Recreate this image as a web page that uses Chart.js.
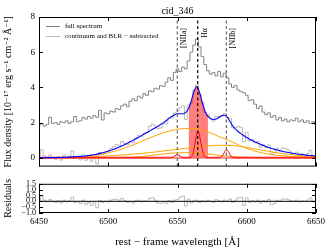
<!DOCTYPE html>
<html><head><meta charset="utf-8">
<script src="https://cdn.jsdelivr.net/npm/chart.js@4.4.1/dist/chart.umd.min.js"></script>
<style>
html,body{margin:0;padding:0;background:#fff;}
#wrap{position:relative;width:332px;height:249px;overflow:hidden;}
canvas{position:absolute;left:0;}
#c1{top:0;}
#c2{top:176px;}
</style></head><body>
<div id="wrap"><canvas id="c1" width="332" height="176"></canvas><canvas id="c2" width="332" height="73"></canvas></div>
<script>
// ---------- data ----------
const wave = [
6450,6452,6454,6456,6458,6460,6462,6464,6466,6468,
6470,6472,6474,6476,6478,6480,6482,6484,6486,6488,
6490,6492,6494,6496,6498,6500,6502,6504,6506,6508,
6510,6512,6514,6516,6518,6520,6522,6524,6526,6528,
6530,6532,6534,6536,6538,6540,6542,6544,6546,6548,
6550,6552,6554,6556,6558,6560,6562,6564,6566,6568,
6570,6572,6574,6576,6578,6580,6582,6584,6586,6588,
6590,6592,6594,6596,6598,6600,6602,6604,6606,6608,
6610,6612,6614,6616,6618,6620,6622,6624,6626,6628,
6630,6632,6634,6636,6638,6640,6642,6644,6646,6648,
6650];
const fullSpectrum = [
1.85,1.95,1.80,1.90,2.30,1.95,2.00,1.90,2.05,2.00,
2.10,1.95,2.05,2.35,2.05,2.10,2.30,2.20,2.35,2.25,
2.40,2.30,2.70,2.15,2.55,2.50,2.65,2.60,2.80,2.75,
2.95,3.05,2.90,3.20,3.35,3.25,3.50,3.40,3.65,3.55,
3.80,3.75,3.95,3.90,4.10,4.05,4.30,4.55,4.40,4.85,
5.05,4.90,5.15,5.05,5.50,6.00,6.40,6.75,6.30,5.75,
5.30,4.95,4.75,4.85,4.65,4.90,4.60,4.80,4.55,4.20,
4.00,4.10,3.85,3.75,3.70,3.55,3.25,3.30,3.05,2.80,
2.95,2.60,2.45,2.55,2.30,2.40,2.15,2.30,2.10,2.20,
2.05,2.15,2.10,2.25,2.05,2.15,2.00,2.10,1.95,2.05,
1.90];
const subtracted = [
0.05,0.45,0.10,-0.04,0.16,0.01,-0.09,0.07,-0.13,0.13,
-0.02,0.09,0.40,-0.04,0.07,-0.12,0.19,-0.14,0.03,-0.20,
0.03,-0.34,0.30,0.19,0.33,0.33,0.53,0.64,0.75,0.71,
0.93,0.81,0.74,0.92,0.85,1.13,1.27,1.21,1.40,1.44,
1.78,1.92,1.81,1.65,1.70,1.95,1.92,2.29,2.26,2.55,
2.65,2.85,2.95,2.18,3.00,3.10,3.85,4.15,3.60,3.15,
2.57,2.45,2.22,2.08,2.35,2.35,2.35,2.52,2.30,2.25,
1.70,1.72,1.78,1.71,0.90,1.45,0.96,1.03,0.85,0.93,
0.61,0.75,0.59,0.73,0.23,0.28,0.54,0.40,0.56,0.53,
0.45,0.32,0.24,0.32,0.15,0.23,0.16,0.24,0.43,0.07,
0.11];
const modelTotal = [
0.00,0.00,0.00,0.01,0.01,0.01,0.01,0.02,0.02,0.03,
0.03,0.04,0.05,0.06,0.07,0.08,0.09,0.11,0.13,0.15,
0.18,0.21,0.25,0.29,0.33,0.38,0.43,0.49,0.55,0.61,
0.68,0.76,0.84,0.92,1.00,1.08,1.17,1.26,1.35,1.44,
1.53,1.62,1.71,1.80,1.90,2.00,2.12,2.24,2.36,2.45,
2.50,2.50,2.50,2.58,2.80,3.25,3.80,4.05,3.70,3.10,
2.62,2.35,2.22,2.18,2.20,2.30,2.40,2.42,2.30,2.05,
1.80,1.62,1.48,1.36,1.25,1.15,1.06,0.98,0.90,0.83,
0.76,0.70,0.64,0.58,0.53,0.48,0.44,0.40,0.36,0.33,
0.30,0.27,0.24,0.22,0.20,0.18,0.16,0.14,0.13,0.12,
0.11];
const residuals = [
0.05,0.45,0.10,-0.05,0.15,0.00,-0.10,0.05,-0.15,0.10,
-0.05,0.05,0.35,-0.10,0.00,-0.20,0.10,-0.25,-0.10,-0.35,
-0.15,-0.55,0.05,-0.10,0.00,-0.05,0.10,0.15,0.20,0.10,
0.25,0.05,-0.10,0.00,-0.15,0.05,0.10,-0.05,0.05,0.00,
0.25,0.30,0.10,-0.15,-0.20,-0.05,-0.20,0.05,-0.10,0.10,
0.15,0.35,0.45,-0.40,0.20,-0.15,0.05,0.10,-0.10,0.05,
-0.05,0.10,0.00,-0.10,0.15,0.05,-0.05,0.10,0.00,0.20,
-0.10,0.10,0.30,0.35,-0.35,0.30,-0.10,0.05,-0.05,0.10,
-0.15,0.05,-0.05,0.15,-0.30,-0.20,0.10,0.00,0.20,0.20,
0.15,0.05,0.00,0.10,-0.05,0.05,0.00,0.10,0.30,-0.05,
0.00];
const compWave = [
6450,6455,6460,6465,6470,6475,6480,6485,6490,6495,
6500,6505,6510,6515,6520,6525,6530,6535,6540,6545,
6550,6555,6560,6565,6570,6575,6580,6585,6590,6595,
6600,6605,6610,6615,6620,6625,6630,6635,6640,6645,
6650];
const broad1 = [
0.00,0.00,0.01,0.01,0.02,0.04,0.06,0.09,0.14,0.20,
0.28,0.38,0.50,0.64,0.80,0.97,1.13,1.29,1.43,1.54,
1.62,1.66,1.66,1.62,1.52,1.38,1.20,1.05,0.88,0.70,
0.53,0.40,0.30,0.22,0.16,0.12,0.09,0.07,0.05,0.04,
0.03];
const broad2 = [
0.00,0.00,0.01,0.01,0.02,0.03,0.04,0.05,0.07,0.09,
0.11,0.13,0.16,0.19,0.22,0.26,0.30,0.34,0.39,0.44,
0.48,0.53,0.58,0.62,0.66,0.69,0.71,0.71,0.69,0.65,
0.59,0.52,0.45,0.38,0.31,0.25,0.20,0.16,0.12,0.09,
0.07];
const broad3 = [
0,0,0,0,0,0,0,0,0,0,
0.00,0.01,0.02,0.03,0.05,0.08,0.12,0.17,0.22,0.26,
0.28,0.30,0.30,0.28,0.24,0.19,0.14,0.10,0.07,0.04,
0.03,0.02,0.01,0,0,0,0,0,0,0,
0];
const narrowWave = [6450,6545,6546,6547,6548,6549,6550,6551,6552,6553,6554,6555,
6559,6560,6561,6562,6563,6564,6565,6566,6567,6568,6569,6570,6571,6572,
6580,6581,6582,6583,6584,6585,6586,6587,6588,6589,6590,6591,6650];
const narrowFlux = [0,0,0.01,0.04,0.10,0.16,0.18,0.15,0.09,0.04,0.01,0,
0,0.05,0.19,0.52,0.98,1.40,1.50,1.22,0.80,0.41,0.17,0.05,0.01,0,
0,0.02,0.07,0.18,0.33,0.44,0.43,0.31,0.16,0.06,0.02,0,0];
const haWindow = [6558, 6572];
const lineWaves = [6549.86, 6564.61, 6585.27];
const lineNames = ['[NIIa]', 'Hα', '[NIIb]'];
const lineColors = ['#666666', '#000000', '#666666'];
const xTicks = [6450, 6500, 6550, 6600, 6650];
const fluxTicks = [0, 2, 4, 6, 8];
const residTicks = [-1.0, -0.5, 0.0, 0.5, 1.0, 1.5];
const residTickLabels = ['−1.0', '−0.5', '0.0', '0.5', '1.0', '1.5'];
const legendLabels = ['full spectrum', 'continuum and BLR − subtracted'];
const legendColors = ['#808080', '#b8b8b8'];
const xRange = [6450, 6650];

// ---------- helpers ----------
const FONT = "'Liberation Serif','DejaVu Serif',serif";
Chart.defaults.font.family = FONT;
Chart.defaults.color = '#000';
Chart.defaults.elements.point.radius = 0;
Chart.defaults.animation = false;
const pts = (xs, ys) => xs.map((x, i) => ({x: x, y: ys[i]}));
const fillPts = wave.map((x, i) => ({x: x, y: modelTotal[i]})).filter(p => p.x >= haWindow[0] && p.x <= haWindow[1]);

const framePlugin = {
  id: 'frame',
  afterDatasetsDraw(chart, args, opts) {
    const {ctx, chartArea: a, scales} = chart;
    ctx.save();
    ctx.strokeStyle = '#000';
    ctx.lineWidth = 1;
    ctx.strokeRect(a.left + 0.5, a.top + 0.5, a.right - a.left - 1, a.bottom - a.top - 1);
    const L = 4;
    ctx.beginPath();
    opts.xt.forEach(v => {
      const x = Math.round(scales.x.getPixelForValue(v)) + 0.5;
      ctx.moveTo(x, a.top); ctx.lineTo(x, a.top + L);
      ctx.moveTo(x, a.bottom); ctx.lineTo(x, a.bottom - L);
    });
    opts.yt.forEach(v => {
      const y = Math.round(scales.y.getPixelForValue(v)) + 0.5;
      ctx.moveTo(a.left, y); ctx.lineTo(a.left + L, y);
      ctx.moveTo(a.right, y); ctx.lineTo(a.right - L, y);
    });
    ctx.stroke();
    ctx.restore();
  }
};

const annotPlugin = {
  id: 'annot',
  afterDatasetsDraw(chart) {
    const {ctx, scales: {x}} = chart;
    ctx.save();
    ctx.fillStyle = '#000';
    ctx.font = "8px " + FONT;
    ctx.textAlign = 'right';
    ctx.textBaseline = 'middle';
    lineWaves.forEach((w, i) => {
      const px = x.getPixelForValue(w) + 7;
      ctx.save();
      ctx.translate(px, 28);
      ctx.rotate(-Math.PI / 2);
      ctx.fillText(lineNames[i], 0, 0);
      ctx.restore();
    });
    // legend
    ctx.font = "7px " + FONT;
    ctx.textAlign = 'left';
    legendLabels.forEach((t, i) => {
      const y = 26 + i * 10;
      ctx.strokeStyle = legendColors[i];
      ctx.lineWidth = 1;
      ctx.beginPath();
      ctx.moveTo(46, y + 0.5); ctx.lineTo(60, y + 0.5);
      ctx.stroke();
      ctx.fillText(t, 65, y + 0.5);
    });
    ctx.restore();
  }
};

const orange = '#ffa500';
const mono = {cubicInterpolationMode: 'monotone', pointRadius: 0};

const mainDatasets = [
  {data: pts(wave, fullSpectrum), borderColor: '#808080', borderWidth: 1, stepped: 'middle', order: 8},
  {data: pts(wave, subtracted), borderColor: '#b8b8b8', borderWidth: 1, stepped: 'middle', order: 7},
  Object.assign({data: fillPts, borderWidth: 0, borderColor: 'rgba(0,0,0,0)', backgroundColor: 'rgba(255,0,0,0.5)', fill: 'origin', order: 6}, mono),
  Object.assign({data: pts(compWave, broad1), borderColor: orange, borderWidth: 1, order: 5}, mono),
  Object.assign({data: pts(compWave, broad2), borderColor: orange, borderWidth: 1, order: 5}, mono),
  Object.assign({data: pts(compWave, broad3), borderColor: orange, borderWidth: 1, order: 5}, mono),
  {data: pts(xRange, [0, 0]), borderColor: 'rgba(255,80,80,0.6)', borderWidth: 2.5, order: 4},
  Object.assign({data: pts(narrowWave, narrowFlux), borderColor: '#ff0000', borderWidth: 1, order: 3}, mono),
  Object.assign({data: pts(wave, modelTotal), borderColor: '#0000ff', borderWidth: 1.1, order: 2}, mono)
];
lineWaves.forEach((w, i) => {
  mainDatasets.push({data: pts([w, w], [-0.5, 8]), borderColor: lineColors[i], borderWidth: 1.2, borderDash: [3, 2.5], order: 1});
});

new Chart(document.getElementById('c1'), {
  type: 'line',
  data: {datasets: mainDatasets},
  options: {
    responsive: false,
    layout: {padding: {left: 0, right: 16, top: 0, bottom: 2}},
    plugins: {
      legend: {display: false},
      tooltip: {enabled: false},
      title: {display: true, text: 'cid_346', fullSize: false, color: '#000', font: {size: 10, weight: 'normal', family: FONT}, padding: {top: 5, bottom: 0}},
      frame: {xt: xTicks, yt: fluxTicks}
    },
    scales: {
      x: {type: 'linear', min: xRange[0], max: xRange[1], display: false},
      y: {
        type: 'linear', min: -0.5, max: 8,
        afterBuildTicks: s => { s.ticks = fluxTicks.map(v => ({value: v})); },
        afterFit: s => { s.width = 39; },
        grid: {display: false, drawTicks: false},
        border: {display: false},
        ticks: {padding: 4, font: {size: 9}, color: '#000'},
        title: {display: true, text: 'Flux density [10⁻¹⁷ erg s⁻¹ cm⁻² Å⁻¹]', font: {size: 10}, color: '#000', padding: {top: 2, bottom: 0}}
      }
    }
  },
  plugins: [framePlugin, annotPlugin]
});

new Chart(document.getElementById('c2'), {
  type: 'line',
  data: {datasets: [
    {data: pts(wave, residuals), borderColor: '#b8b8b8', borderWidth: 1, stepped: 'middle', order: 2},
    {data: pts(xRange, [0, 0]), borderColor: '#000', borderWidth: 1, order: 1}
  ]},
  options: {
    responsive: false,
    layout: {padding: {left: 0, right: 16, top: 2, bottom: 0}},
    plugins: {legend: {display: false}, tooltip: {enabled: false}, frame: {xt: xTicks, yt: residTicks}},
    scales: {
      x: {
        type: 'linear', min: xRange[0], max: xRange[1],
        afterBuildTicks: s => { s.ticks = xTicks.map(v => ({value: v})); },
        afterFit: s => { s.height = 36; },
        grid: {display: false, drawTicks: false},
        border: {display: false},
        ticks: {padding: 3, font: {size: 9}, color: '#000', maxRotation: 0, autoSkip: false, callback: v => String(v)},
        title: {display: true, text: 'rest − frame wavelength [Å]', font: {size: 11}, color: '#000', padding: {top: 0, bottom: 0}}
      },
      y: {
        type: 'linear', min: -1, max: 1.5,
        afterBuildTicks: s => { s.ticks = residTicks.map(v => ({value: v})); },
        afterFit: s => { s.width = 39; },
        grid: {display: false, drawTicks: false},
        border: {display: false},
        ticks: {padding: 3, font: {size: 8}, color: '#000', autoSkip: false, callback: (v, i) => residTickLabels[i]},
        title: {display: true, text: 'Residuals', font: {size: 10}, color: '#000', padding: {top: 2, bottom: 0}}
      }
    }
  },
  plugins: [framePlugin]
});
</script>
</body></html>
